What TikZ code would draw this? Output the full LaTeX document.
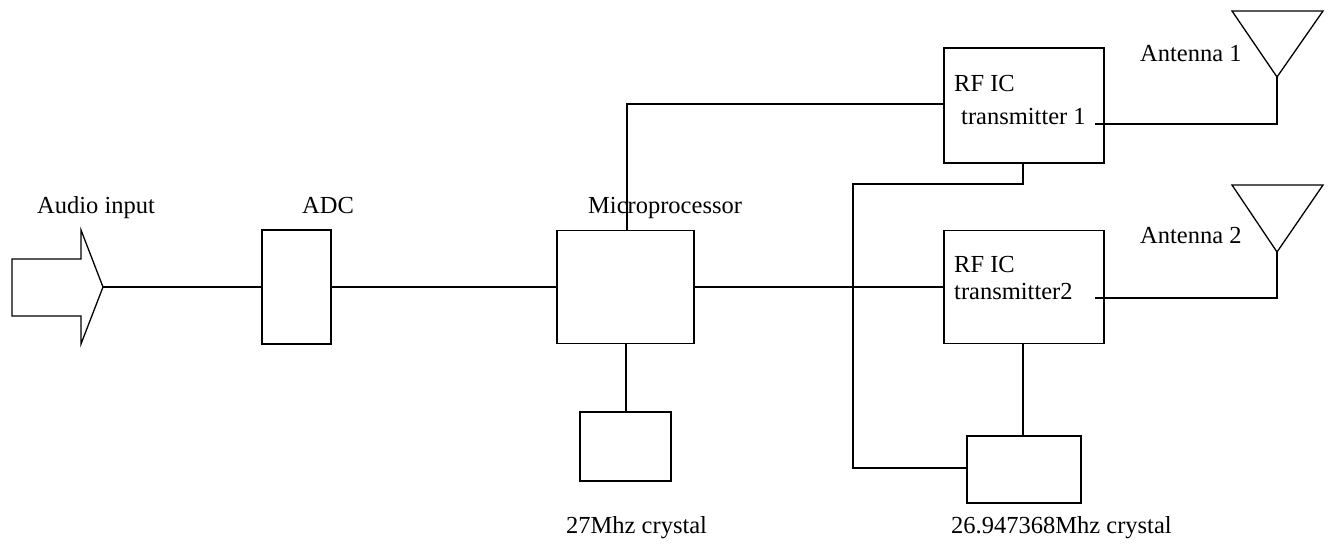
\documentclass[tikz,border=0pt]{standalone}
\usepackage{fontspec}
\setmainfont{Liberation Serif}
\begin{document}
\begin{tikzpicture}[x=1pt,y=-1pt,
  box/.style={draw,line width=1.3pt,minimum width=#1,inner sep=0pt},
  wire/.style={line width=1.3pt},
  lbl/.style={anchor=base west,inner sep=0pt,font=\fontsize{24.5}{28}\selectfont}]
\useasboundingbox (0,0) rectangle (1329,543);
% boxes
\node[box=69pt,minimum height=114pt] (adc) at (296.5,287) {};
\node[box=137pt,minimum height=113pt] (mp) at (625.5,287) {};
\node[box=91pt,minimum height=69pt] (x1) at (625.5,446.5) {};
\node[box=160pt,minimum height=115pt] (rf1) at (1024,105.5) {};
\node[box=160pt,minimum height=113pt] (rf2) at (1024,287) {};
\node[box=114pt,minimum height=67pt] (x2) at (1024,469.5) {};
% audio input arrow
\draw[wire,line join=miter] (12,259) -- (81,259) -- (81,230) -- (103,287) -- (81,344) -- (81,316) -- (12,316) -- cycle;
\coordinate (tip) at (103,287);
% antennas
\draw[wire] (1232,11) -- (1323,11) -- (1277,77) -- cycle;
\coordinate (a1) at (1277,77);
\draw[wire] (1232,185) -- (1323,185) -- (1277,252) -- cycle;
\coordinate (a2) at (1277,252);
\coordinate (t1) at (1095,124);
\coordinate (t2) at (1095,298);
% wires
\draw[wire] (tip) -- (adc.west);
\draw[wire] (adc.east) -- (mp.west);
\draw[wire] (mp.east) -- (rf2.west);
\draw[wire] (mp.north -| 627,0) -- (627,104) -- (rf1.west |- 0,104);
\draw[wire] (mp.south -| 626,0) -- (x1.north -| 626,0);
\draw[wire] (rf1.south -| 1023,0) -- (1023,184) -- (853,184) -- (853,468) -- (x2.west |- 0,468);
\draw[wire] (rf2.south -| 1023,0) -- (x2.north -| 1023,0);
\draw[wire] (a1) -- (1277,124) -- (t1);
\draw[wire] (a2) -- (1277,298) -- (t2);
% labels
\node[lbl] (lai) at (37,213) {Audio input};
\node[lbl] (ladc) at (302,213) {ADC};
\node[lbl] (lmp) at (588,213) {Microprocessor};
\node[lbl] (lrf1a) at (954,91) {RF IC};
\node[lbl] (lrf1b) at (961,124) {transmitter 1};
\node[lbl] (lrf2a) at (954,272) {RF IC};
\node[lbl] (lrf2b) at (954,299) {transmitter2};
\node[lbl] (lan1) at (1140,62) {Antenna 1};
\node[lbl] (lan2) at (1140,243) {Antenna 2};
\node[lbl] (lx1) at (566,533) {27Mhz crystal};
\node[lbl] (lx2) at (951,533) {26.947368Mhz crystal};
\end{tikzpicture}
\end{document}
